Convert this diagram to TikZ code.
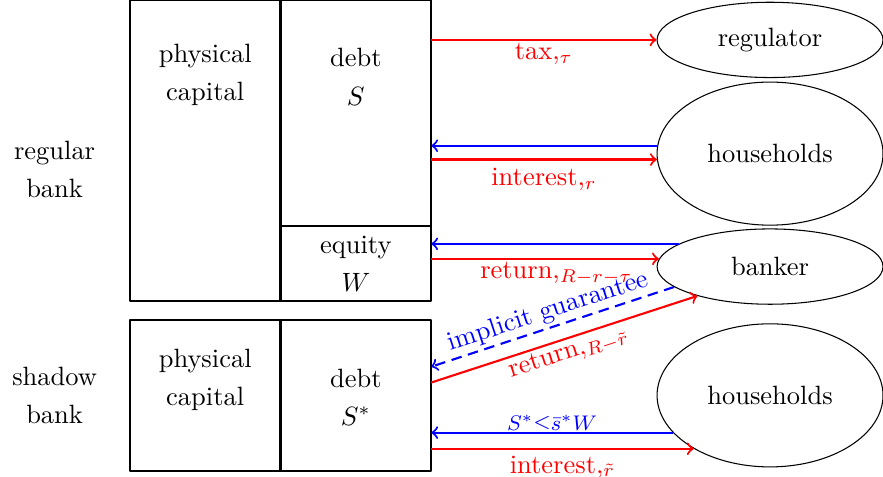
\documentclass[tikz,border=0pt]{standalone}
\usetikzlibrary{shapes.geometric}
\begin{document}
\begin{tikzpicture}[line join=round,>=to]
	\tikzset{party/.style={draw,ellipse,minimum width=3cm,inner sep=0pt},
		flow/.style={thick,->},
		lbl/.style={inner sep=1pt},
		txt/.style={align=center}}
	\def \w{2}
	\useasboundingbox (-1.725,-0.08) rectangle (10,6.25);
	% the two balance sheets
	\draw[thick] (0,2.25) rectangle (2*\w,6.25);
	\draw[thick] (\w,2.25) -- (\w,6.25) (\w,3.25) -- (2*\w,3.25);
	\draw[thick] (0,0) rectangle (2*\w,2);
	\draw[thick] (\w,0) -- (\w,2);
	\node[txt] (regular) at (-1,4) {regular\\[2.4pt]bank};
	\node[txt] (shadow) at (-1,1) {shadow\\[2.4pt]bank};
	\node[txt] (cap) at (1,5.25) {physical\\[2.4pt]capital};
	\node[txt] (debt) at (3,5.23) {debt\\[2.4pt]$S$};
	\node[txt] (eq) at (3,2.75) {equity\\[2.4pt]$W$};
	\node[txt] (caps) at (1,1.2) {physical\\[2.4pt]capital};
	\node[txt] (debts) at (3,0.98) {debt\\[2.4pt]$S^*$};
	% the others
	\node[party,minimum height=1cm] (reg) at (8.5,5.72) {regulator};
	\node[party,minimum height=1.9cm] (hh) at (8.5,4.21) {households};
	\node[party,minimum height=1cm] (bk) at (8.5,2.71) {banker};
	\node[party,minimum height=1.9cm] (hhs) at (8.5,1) {households};
	\coordinate (R) at (2*\w,0);
	\coordinate (g) at (2*\w,1.38);
	\coordinate (rt) at (2*\w,1.17);
	% flows
	\draw[flow,red] (reg.west -| R) -- (reg.west) node[lbl,midway,below] {tax,$_\tau$};
	\draw[flow,blue] (hh.176.5) -- (hh.176.5 -| R);
	\draw[flow,red] (hh.183.2 -| R) -- (hh.183.2) node[lbl,midway,below=2pt] {interest,$_r$};
	\draw[flow,blue] (bk.166) -- (bk.166 -| R);
	\draw[flow,red] (bk.176.5 -| R) -- (bk.176.5) node[lbl,pos=0.55,below] {return,$_{R-r-\tau}$};
	\draw[flow,blue,dash pattern=on 4pt off 2.5pt] (bk.192.7) -- (g) node[lbl,midway,above,sloped] {implicit guarantee};
	\draw[flow,red] (rt) -- (bk.202.5) node[lbl,midway,below,sloped] {return,$_{R-\tilde r}$};
	\draw[flow,blue] (hhs.201.2) -- (hhs.201.2 -| R) node[midway,above=-0.8pt,inner sep=0pt,font=\footnotesize] {$S^*{\leq}\bar{s}^*W$};
	\draw[flow,red] (hhs.215.3 -| R) -- (hhs.215.3) node[lbl,midway,below=1.2pt] {interest,$_{\tilde r}$};
\end{tikzpicture}
\end{document}
